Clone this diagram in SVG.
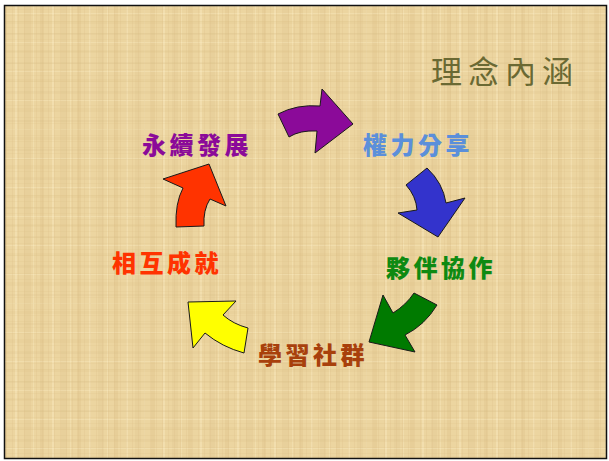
<svg xmlns="http://www.w3.org/2000/svg" width="609" height="461" viewBox="0 0 609 461">
<defs>
<pattern id="vstripes" width="37" height="461" patternUnits="userSpaceOnUse">
<rect x="3" y="0" width="4" height="461" fill="#C9A56A" opacity="0.14"/>
<rect x="15" y="0" width="2" height="461" fill="#FFF3D0" opacity="0.3"/>
<rect x="24" y="0" width="6" height="461" fill="#C9A56A" opacity="0.1"/>
<rect x="33" y="0" width="1" height="461" fill="#FFF3D0" opacity="0.25"/>
</pattern>
<pattern id="hstripes" width="609" height="29" patternUnits="userSpaceOnUse">
<rect x="0" y="4" width="609" height="2" fill="#C9A56A" opacity="0.1"/>
<rect x="0" y="13" width="609" height="1" fill="#FFF3D0" opacity="0.25"/>
<rect x="0" y="21" width="609" height="3" fill="#C9A56A" opacity="0.08"/>
</pattern>
<pattern id="grain" width="6" height="6" patternUnits="userSpaceOnUse">
<rect x="0" y="0" width="1" height="6" fill="#D8BB80" opacity="0.2"/>
<rect x="0" y="3" width="6" height="1" fill="#D8BB80" opacity="0.15"/>
</pattern>
</defs>
<style>
.arrow{stroke:#1a1a1a;stroke-width:1;stroke-linejoin:miter}
.lbl{font-family:"Noto Sans CJK TC","Noto Sans CJK SC",sans-serif;font-weight:900;font-size:24px;letter-spacing:3.5px}
.title{font-family:"Noto Sans CJK TC","Noto Sans CJK SC",sans-serif;font-size:31px;letter-spacing:6px;fill:#6A6933}
</style>
<rect width="609" height="461" fill="#ffffff"/>
<g id="background">
<rect x="4" y="5" width="603" height="454" fill="#ECD5A0"/>
<rect x="4" y="5" width="603" height="454" fill="url(#vstripes)"/>
<rect x="4" y="5" width="603" height="454" fill="url(#hstripes)"/>
<rect x="4" y="5" width="603" height="454" fill="url(#grain)"/>
<rect x="4.5" y="5.5" width="602" height="453" fill="none" stroke="#111" stroke-width="1.5"/>
</g>
<g id="title">
<text class="title" x="431" y="83">理念內涵</text>
</g>
<g id="connectors">
<path class="arrow" fill="#8B0A99" d="M278,114 Q297,104 320,106 L322,89 L353,124 L315,153 L317,131 Q300,130 289,137 Z"/>
<path class="arrow" fill="#3333CC" d="M427,168 Q443,183 446,203 L465,198 L438,237 L398,213 L417,210 Q416,196 406,185 Z"/>
<path class="arrow" fill="#007A00" d="M414,293 L437,305 Q425,325 405,335 L415,352 L369,342 L383,295 L393,313 Q406,305 414,293 Z"/>
<path class="arrow" fill="#FFFF00" d="M188,302 L236,301 L223,315 Q233,324 248,328 L244,353 Q222,347 205,333 L193,348 Z"/>
<path class="arrow" fill="#FF3300" d="M163,179 L209,164 L226,206 L210,199 Q203,210 204,226 L176,227 Q175,203 183,188 Z"/>
</g>
<g id="node-yongxu">
<text class="lbl" x="142" y="154" fill="#8B0A99">永續發展</text>
</g>
<g id="node-quanli">
<text class="lbl" x="363" y="154" fill="#5B8FDA">權力分享</text>
</g>
<g id="node-huoban">
<text class="lbl" x="386" y="277" fill="#0E8A12">夥伴協作</text>
</g>
<g id="node-xuexi">
<text class="lbl" x="258" y="364" fill="#A8400C">學習社群</text>
</g>
<g id="node-xianghu">
<text class="lbl" x="112" y="272" fill="#FF3300">相互成就</text>
</g>
</svg>
